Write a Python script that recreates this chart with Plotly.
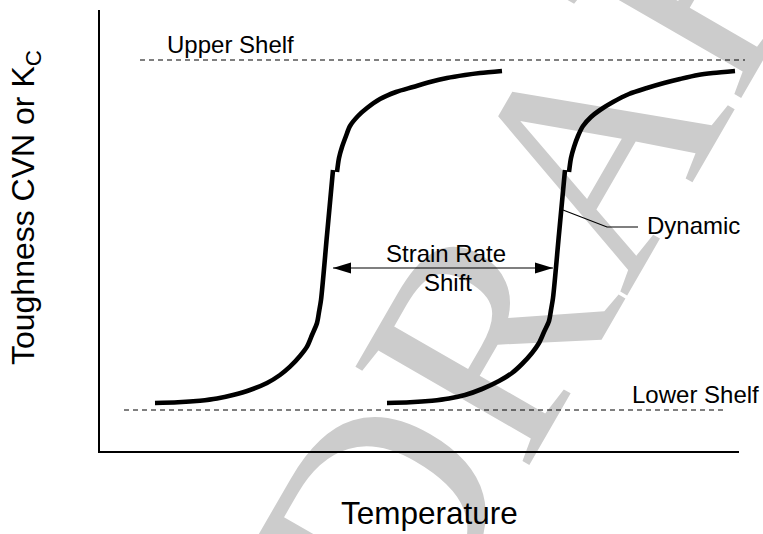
import plotly.graph_objects as go

# ---------------- data (read from the reference schematic) ----------------
# x: temperature (arbitrary units), y: toughness CVN or Kc (arbitrary units)
X_RANGE = [1, 640]
Y_RANGE = [1, 442]

# static curve: lower shelf branch + steep transition
static_lower_t = [56, 79, 101, 118, 134, 151, 168, 181, 191, 201, 208, 213, 218, 220, 222, 228, 234]
static_lower_k = [49, 49.7, 51.3, 53.5, 57, 62, 69, 77, 85.3, 96, 105.3, 117, 129, 140, 152, 217, 282]
# static curve: upper branch
static_upper_t = [238, 240, 243, 247, 251, 259, 268, 281, 297, 314, 331, 348, 366, 381, 403]
static_upper_k = [280, 294, 305, 316, 326, 336, 344, 353, 360, 365, 370, 374, 377, 379, 381]

# dynamic curve: lower shelf branch + steep transition
dynamic_lower_t = [288, 311, 333, 350, 366, 383, 400, 413, 423, 433, 440, 445, 450, 452, 454, 460, 466]
dynamic_lower_k = [49, 49.7, 51.3, 53.5, 57, 63, 71, 79, 88, 99, 109, 120, 131, 142, 154, 218, 282]
# dynamic curve: upper branch
dynamic_upper_t = [470, 472, 475, 479, 484, 492, 501, 514, 530, 548, 565, 581, 599, 614, 636]
dynamic_upper_k = [280, 294, 305, 316, 326, 335, 342, 350, 358, 364, 369, 373, 377, 379, 381]

# shelves
upper_shelf_k = 392
upper_shelf_t = [41, 646]
lower_shelf_k = 42
lower_shelf_t = [25, 628]

# strain-rate shift arrow
shift_k = 184
shift_t = [234, 454]

# leader line to the "Dynamic" label
leader_t = [464, 508, 539]
leader_k = [242, 225, 225]

# ---------------- figure ----------------
FONT = "Liberation Sans, Arial, Helvetica, sans-serif"
BLACK = "#000000"

def xp(v):
    return (v - X_RANGE[0]) / (X_RANGE[1] - X_RANGE[0])

fig = go.Figure()

curve_style = dict(color=BLACK, width=4.6, shape="spline", smoothing=0.8)
for t, k in [(static_lower_t, static_lower_k), (static_upper_t, static_upper_k),
             (dynamic_lower_t, dynamic_lower_k), (dynamic_upper_t, dynamic_upper_k)]:
    fig.add_trace(go.Scatter(x=t, y=k, mode="lines", line=curve_style,
                             hoverinfo="skip", showlegend=False))

# leader line
fig.add_trace(go.Scatter(x=leader_t, y=leader_k, mode="lines",
                         line=dict(color=BLACK, width=1.2),
                         hoverinfo="skip", showlegend=False))
# arrow shaft
fig.add_trace(go.Scatter(x=shift_t, y=[shift_k, shift_k], mode="lines",
                         line=dict(color=BLACK, width=1.2),
                         hoverinfo="skip", showlegend=False))

# arrow heads (filled triangles at both ends of the shift)
HEAD_L, HEAD_H = 18, 5.5
tl, tr = shift_t
fig.add_shape(type="path", xref="x", yref="y", line=dict(width=0), fillcolor=BLACK,
              path=f"M{tl},{shift_k} L{tl + HEAD_L},{shift_k + HEAD_H} L{tl + HEAD_L},{shift_k - HEAD_H} Z")
fig.add_shape(type="path", xref="x", yref="y", line=dict(width=0), fillcolor=BLACK,
              path=f"M{tr},{shift_k} L{tr - HEAD_L},{shift_k + HEAD_H} L{tr - HEAD_L},{shift_k - HEAD_H} Z")

# shelf reference lines (dashed)
for k, (t0, t1) in [(upper_shelf_k, upper_shelf_t), (lower_shelf_k, lower_shelf_t)]:
    fig.add_shape(type="line", xref="paper", yref="y", x0=xp(t0), x1=xp(t1), y0=k, y1=k,
                  line=dict(color=BLACK, width=1, dash="5px,4px"))

# watermark (behind everything)
WM_X, WM_Y = 0.698, 0.6508
fig.add_shape(type="rect", xref="paper", yref="paper",
              x0=WM_X - 0.005, x1=WM_X + 0.005, y0=WM_Y - 0.005, y1=WM_Y + 0.005,
              layer="below", line=dict(width=0), fillcolor="rgba(0,0,0,0)",
              label=dict(text="DRAFT", textangle=-60, textposition="middle center",
                         font=dict(family="Liberation Serif, Times New Roman, serif",
                                   size=305, color="#cccccc")))

# text labels
lbl = dict(showarrow=False, font=dict(family=FONT, size=24, color=BLACK))
fig.add_annotation(x=66, y=408, text="Upper Shelf", xanchor="left", yanchor="middle", **lbl)
fig.add_annotation(x=531, y=57.5, text="Lower Shelf", xanchor="left", yanchor="middle", **lbl)
fig.add_annotation(x=347, y=199, text="Strain Rate", xanchor="center", yanchor="middle", **lbl)
fig.add_annotation(x=348.5, y=170, text="Shift", xanchor="center", yanchor="middle", **lbl)
fig.add_annotation(x=546, y=226.5, text="Dynamic", xanchor="left", yanchor="middle", **lbl)

# axis titles
fig.add_annotation(xref="paper", yref="paper", x=0.5164, y=-0.1395, text="Temperature",
                   showarrow=False, xanchor="center", yanchor="middle",
                   font=dict(family=FONT, size=31.5, color=BLACK))
fig.add_annotation(xref="paper", yref="paper", x=-0.1166, y=0.552,
                   text="Toughness CVN or K<sub>C</sub>", textangle=-90,
                   showarrow=False, xanchor="center", yanchor="middle",
                   font=dict(family=FONT, size=32, color=BLACK))

axis_common = dict(showgrid=False, zeroline=False, showticklabels=False, ticks="",
                   showline=True, linecolor=BLACK, linewidth=2, fixedrange=True)
fig.update_xaxes(range=X_RANGE, **axis_common)
fig.update_yaxes(range=Y_RANGE, **axis_common)

fig.update_layout(
    width=763, height=534,
    margin=dict(l=100, r=24, t=10, b=83),
    paper_bgcolor="white", plot_bgcolor="rgba(0,0,0,0)",
    showlegend=False,
)

fig.write_html("out.html", config={"displayModeBar": False},
               post_script="document.body.style.margin='0';document.body.style.overflow='hidden';")
